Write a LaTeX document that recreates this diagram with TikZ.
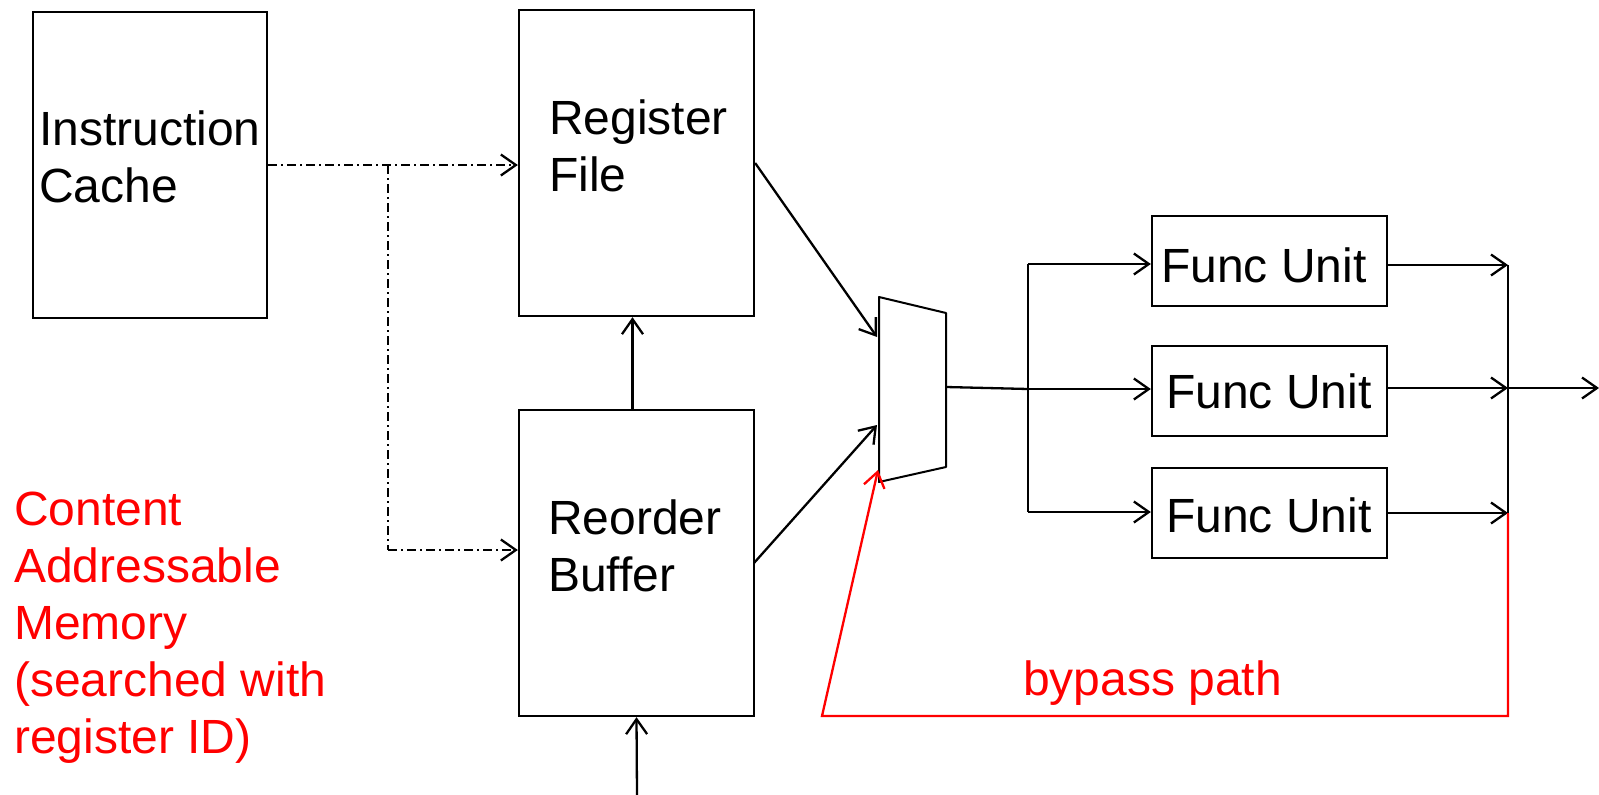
\documentclass[tikz,border=0pt]{standalone}
\usepackage{fontspec}
\setmainfont{Liberation Sans}
\usetikzlibrary{arrows.meta,calc}
\tikzset{
  box/.style={draw=black, line width=2.3pt, inner sep=0pt, fill=white},
  lbl/.style={anchor=base west, inner sep=0pt, align=left, font=\fontsize{48}{57}\selectfont},
  redlbl/.style={lbl, text=red},
  wire/.style={draw=black, line width=2.3pt},
  arr/.style={wire, -{Straight Barb[length=15pt,width=21pt,line width=2.3pt]}},
  ctl/.style={arr, dash pattern=on 9pt off 4pt on 2pt off 4pt},
  ctlline/.style={wire, dash pattern=on 9pt off 4pt on 2pt off 4pt},
  byp/.style={draw=red, line width=2.3pt},
  byparr/.style={byp, -{Straight Barb[length=15pt,width=21pt,line width=2.3pt]}},
}
\begin{document}
\begin{tikzpicture}[x=1pt,y=-1pt]
\useasboundingbox (0,0) rectangle (1599,795);
% boxes
\node[box, minimum width=234pt, minimum height=306pt] (ic) at (150,165) {};
\node[box, minimum width=235pt, minimum height=306pt] (rf) at (636.5,163) {};
\node[box, minimum width=235pt, minimum height=306pt] (rob) at (636.5,563) {};
\node[box, minimum width=235pt, minimum height=90pt] (fu1) at (1269.5,261) {};
\node[box, minimum width=235pt, minimum height=90pt] (fu2) at (1269.5,391) {};
\node[box, minimum width=235pt, minimum height=90pt] (fu3) at (1269.5,513) {};
% labels (anchored at the baseline of the last line)
\node[lbl] (icl) at (39,202) {Instruction\\Cache};
\node[lbl] (rfl) at (549,191) {Register\\File};
\node[lbl] (robl) at (548,591) {Reorder\\Buffer};
\node[lbl] (fu1l) at (1161,282) {Func Unit};
\node[lbl] (fu2l) at (1166,408) {Func Unit};
\node[lbl] (fu3l) at (1166,532) {Func Unit};
\node[redlbl] (caml) at (14,753) {Content\\Addressable\\Memory\\(searched with\\register ID)};
\node[redlbl] (bypl) at (1023,695) {bypass path};
% mux
\coordinate (mtl) at (879,297);
\coordinate (mtr) at (946,313);
\coordinate (mbr) at (946,467);
\coordinate (mbl) at (879,482);
\draw[line width=2pt, line join=round] (mtl) -- (mtr) -- (mbr) -- (mbl) -- cycle;
\coordinate (min1) at (877,337);
\coordinate (min2) at (877,425);
\coordinate (min3) at (878,470);
\coordinate (mout) at (946,387);
% buses
\coordinate (bl1) at (1028,264);
\coordinate (bl2) at (1028,389);
\coordinate (bl3) at (1028,512);
\coordinate (br1) at (1508,265);
\coordinate (br2) at (1508,388);
\coordinate (br3) at (1508,513);
\coordinate (out) at (1599,388);
\coordinate (bypr) at (1508,716);
\coordinate (bypl) at (822,716);
\coordinate (robin) at (637,795);
\coordinate (br) at (388,165);
% control (dash-dot)
\draw[ctl] (ic.east |- br) -- (rf.west |- br);
\draw[ctlline] (br) -- (388,550);
\draw[ctl] (388,550) -- (rob.west |- 0,550);
% data
\draw[arr] ([xshift=-4pt]rob.north) -- ([xshift=-4pt]rf.south);
\draw[arr] (robin) -- (rob.south);
\draw[arr] (rf.east) -- (min1);
\draw[arr] (754,563) -- (min2);
\draw[wire] (mout) -- (bl2);
\draw[wire] (bl1) -- (bl3);
\draw[arr] (bl1) -- (fu1.west |- bl1);
\draw[arr] (bl2) -- (fu2.west |- bl2);
\draw[arr] (bl3) -- (fu3.west |- bl3);
\draw[arr] (fu1.east |- br1) -- (br1);
\draw[arr] (fu2.east |- br2) -- (br2);
\draw[arr] (fu3.east |- br3) -- (br3);
\draw[wire] (br1) -- (br3);
\draw[arr] (br2) -- (out);
\draw[byparr, line join=miter] (br3) -- (bypr) -- (bypl) -- (min3);
\end{tikzpicture}
\end{document}
